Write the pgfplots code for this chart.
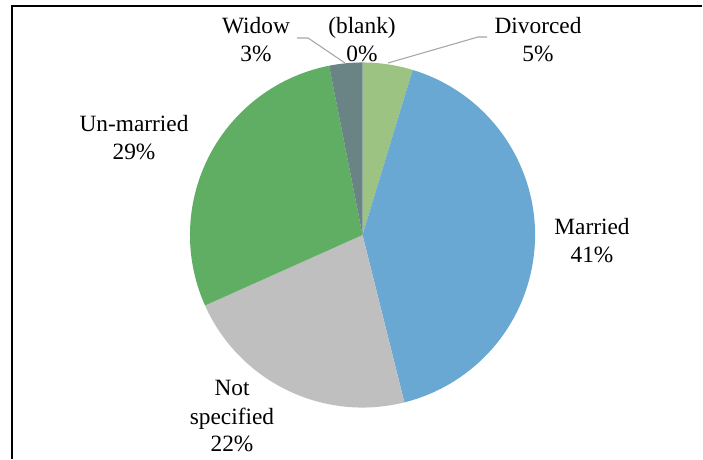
\documentclass[border=0pt]{standalone}
\usepackage{pgfplots}
\pgfplotsset{compat=1.18}
\usepackage{fontspec}
\setmainfont{Liberation Serif}
\definecolor{cDiv}{HTML}{9DC383}
\definecolor{cMar}{HTML}{6AA8D4}
\definecolor{cNot}{HTML}{BFBFBF}
\definecolor{cUnm}{HTML}{5FAE63}
\definecolor{cWid}{HTML}{6A8485}
\definecolor{lead}{HTML}{A6A6A6}

% start (percent from top, clockwise), share in percent, colour
\newcommand{\slice}[3]{%
  \fill[#3] (axis cs:362.5,224) -- ++({90-3.6*#1}:129.4pt)
    arc[start angle={90-3.6*#1}, delta angle={-3.6*#2}, radius=129.4pt] -- cycle;}
\newcommand{\lab}[3]{\node[anchor=base, font=\fontsize{17.5}{21}\selectfont] at (axis cs:#1,{459-#2}) {#3};}

\begin{document}
\begin{tikzpicture}
\begin{axis}[hide axis, scale only axis, width=527.25pt, height=344.25pt,
  xmin=0, xmax=703, ymin=0, ymax=459, clip=false]
\path (axis cs:0,0) rectangle (axis cs:703,459);
% shares: Divorced 4.7, Married 41.4, Not specified 22.2, Un-married 28.6, Widow 3.1, (blank) 0
\slice{0}{4.7}{cDiv}
\slice{4.7}{41.4}{cMar}
\slice{46.1}{22.2}{cNot}
\slice{68.3}{28.6}{cUnm}
\slice{96.9}{3.1}{cWid}
% frame
\draw[black, line width=1.2pt] (axis cs:12,0) -- (axis cs:12,453) -- (axis cs:702,453);
% leader lines
\draw[lead, line width=0.8pt] (axis cs:297,{459-38}) -- (axis cs:308,{459-38}) -- (axis cs:345,{459-63});
\draw[lead, line width=0.8pt] (axis cs:388,{459-63}) -- (axis cs:478,{459-37}) -- (axis cs:487,{459-37});
% labels
\lab{256}{34}{Widow}
\lab{256}{62}{3\%}
\lab{362}{34}{(blank)}
\lab{362}{62}{0\%}
\lab{538}{34}{Divorced}
\lab{538}{62}{5\%}
\lab{592}{235}{Married}
\lab{592}{263}{41\%}
\lab{134}{132}{Un-married}
\lab{134}{160}{29\%}
\lab{232}{396}{Not}
\lab{232}{425}{specified}
\lab{232}{452}{22\%}
\end{axis}
\end{tikzpicture}
\end{document}
